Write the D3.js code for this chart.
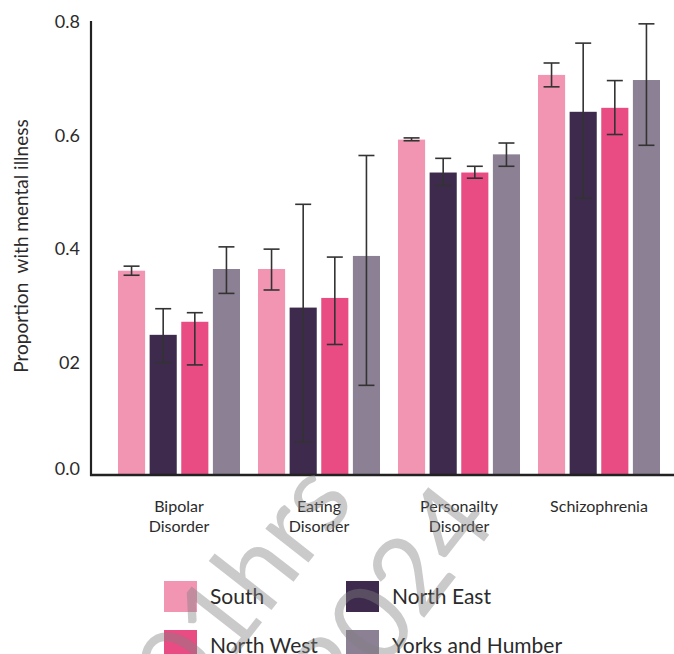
<!DOCTYPE html>
<html>
<head>
<meta charset="utf-8">
<script src="https://cdn.jsdelivr.net/npm/d3@7"></script>
<style>
  html, body { margin: 0; padding: 0; background: #fff; }
  svg { display: block; font-family: Lato, "Open Sans", sans-serif; }
</style>
</head>
<body>
<svg id="chart" width="674" height="654"></svg>
<script>
// ---- data ----
const categories = ["Bipolar Disorder", "Eating Disorder", "Personailty Disorder", "Schizophrenia"];
const categoryLines = [["Bipolar", "Disorder"], ["Eating", "Disorder"], ["Personailty", "Disorder"], ["Schizophrenia"]];
const series = ["South", "North East", "North West", "Yorks and Humber"];
const colors = ["#f295b3", "#3e2a4d", "#e84c83", "#8c8094"];

const southValues = [0.360, 0.363, 0.591, 0.705];
const southLow    = [0.352, 0.326, 0.589, 0.684];
const southHigh   = [0.368, 0.398, 0.594, 0.726];

const northEastValues = [0.247, 0.295, 0.533, 0.640];
const northEastLow    = [0.198, 0.058, 0.510, 0.488];
const northEastHigh   = [0.293, 0.477, 0.558, 0.761];

const northWestValues = [0.270, 0.312, 0.533, 0.647];
const northWestLow    = [0.194, 0.230, 0.523, 0.600];
const northWestHigh   = [0.286, 0.384, 0.544, 0.695];

const yorksValues = [0.363, 0.386, 0.565, 0.696];
const yorksLow    = [0.320, 0.158, 0.544, 0.581];
const yorksHigh   = [0.402, 0.563, 0.585, 0.795];

const yTickValues = [0, 0.2, 0.4, 0.6, 0.8];
const yTickLabels = ["0.0", "02", "0.4", "0.6", "0.8"];
const yTitle = "Proportion  with mental illness";
const watermarkLines = ["01hrs", "2024"];

// ---- build table ----
const seriesValues = [southValues, northEastValues, northWestValues, yorksValues];
const seriesLow = [southLow, northEastLow, northWestLow, yorksLow];
const seriesHigh = [southHigh, northEastHigh, northWestHigh, yorksHigh];
const rows = [];
categories.forEach((c, ci) => {
  series.forEach((s, si) => {
    rows.push({cat: c, ser: s, v: seriesValues[si][ci], lo: seriesLow[si][ci], hi: seriesHigh[si][ci], color: colors[si]});
  });
});

const svg = d3.select("#chart");
const axisX = 91, axisBottom = 475, axisTop = 21;

const y = d3.scaleLinear().domain([0, 0.8]).range([axisBottom, axisTop]);
const x0 = d3.scaleBand().domain(categories).range([118, 660]).paddingInner(18 / 140).paddingOuter(0);
const x1 = d3.scaleBand().domain(series).range([0, x0.bandwidth()]).paddingInner(4.5 / 31.5).paddingOuter(0);

const textColor = "#2b2b2b";

// bars
svg.append("g").selectAll("rect").data(rows).join("rect")
  .attr("x", d => x0(d.cat) + x1(d.ser))
  .attr("y", d => y(d.v))
  .attr("width", x1.bandwidth())
  .attr("height", d => y(0) - y(d.v))
  .attr("fill", d => d.color);

// error bars
const capW = 16;
const eg = svg.append("g").attr("stroke", "#333").attr("stroke-width", 1.6);
rows.forEach(d => {
  const cx = x0(d.cat) + x1(d.ser) + x1.bandwidth() / 2;
  eg.append("line").attr("x1", cx).attr("x2", cx).attr("y1", y(d.hi)).attr("y2", y(d.lo));
  eg.append("line").attr("x1", cx - capW / 2).attr("x2", cx + capW / 2).attr("y1", y(d.hi)).attr("y2", y(d.hi));
  eg.append("line").attr("x1", cx - capW / 2).attr("x2", cx + capW / 2).attr("y1", y(d.lo)).attr("y2", y(d.lo));
});

// axes
svg.append("line").attr("x1", axisX).attr("x2", axisX).attr("y1", axisTop).attr("y2", axisBottom + 1)
  .attr("stroke", "#222").attr("stroke-width", 2.2);
svg.append("line").attr("x1", axisX - 1).attr("x2", 674).attr("y1", axisBottom).attr("y2", axisBottom)
  .attr("stroke", "#222").attr("stroke-width", 2.6);

// y tick labels
svg.append("g").selectAll("text").data(yTickValues).join("text")
  .attr("x", 80)
  .attr("y", (d, i) => y(d) + (i === 0 ? 0 : 7))
  .attr("text-anchor", "end")
  .attr("font-size", 18)
  .attr("fill", textColor)
  .text((d, i) => yTickLabels[i]);

// y title
svg.append("text")
  .attr("transform", "translate(28,246) rotate(-90)")
  .attr("text-anchor", "middle")
  .attr("font-size", 19)
  .attr("fill", textColor)
  .style("white-space", "pre")
  .text(yTitle);

// category labels
const cg = svg.append("g");
categories.forEach((c, ci) => {
  const t = cg.append("text")
    .attr("x", x0(c) + x0.bandwidth() / 2)
    .attr("y", 512)
    .attr("text-anchor", "middle")
    .attr("font-size", 16)
    .attr("fill", textColor);
  categoryLines[ci].forEach((ln, li) => {
    t.append("tspan").attr("x", x0(c) + x0.bandwidth() / 2).attr("dy", li === 0 ? 0 : 20).text(ln);
  });
});

// legend
const lg = svg.append("g");
series.forEach((s, i) => {
  const col = i % 2, row = Math.floor(i / 2);
  const lx = 164 + col * 182, ly = 581 + row * 49;
  lg.append("rect").attr("x", lx).attr("y", ly).attr("width", 33).attr("height", 31).attr("fill", colors[i]);
  lg.append("text").attr("x", lx + 46).attr("y", ly + 23).attr("font-size", 21).attr("fill", textColor).text(s);
});

// watermark
const wg = svg.append("g").attr("fill", "#808080").attr("fill-opacity", 0.42)
  .attr("font-size", 108).attr("font-weight", 400).attr("text-anchor", "middle");
wg.append("text").attr("transform", "translate(240,582) rotate(-52)").attr("dominant-baseline", "central").text(watermarkLines[0]);
wg.append("text").attr("transform", "translate(388,596) rotate(-52)").attr("dominant-baseline", "central").text(watermarkLines[1]);
</script>
</body>
</html>
